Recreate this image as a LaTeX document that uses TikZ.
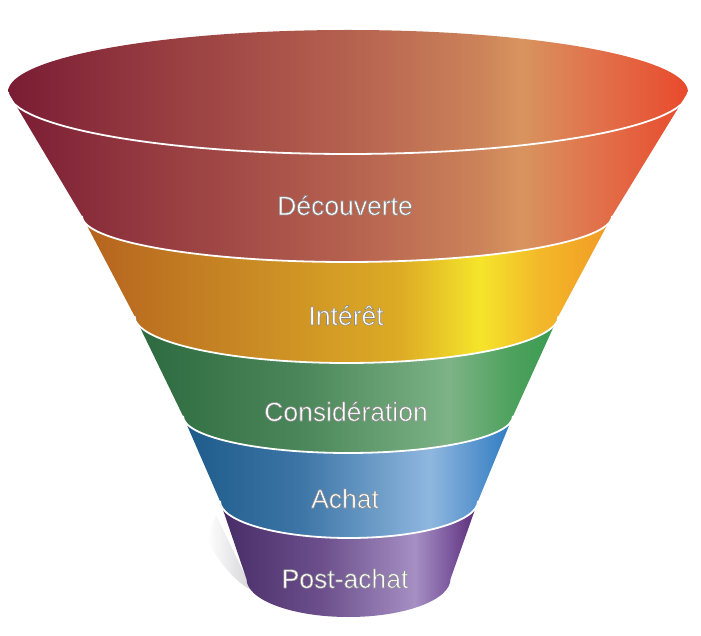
\documentclass[tikz,border=0pt]{standalone}
\usepackage{fontspec}
\setmainfont{Liberation Sans}
% red band colours
\definecolor{rA}{HTML}{7A1C34}\definecolor{rB}{HTML}{953A40}\definecolor{rC}{HTML}{B5614F}
\definecolor{rD}{HTML}{CC8359}\definecolor{rE}{HTML}{D8945F}\definecolor{rF}{HTML}{E2704A}\definecolor{rG}{HTML}{E84A2C}
% orange band
\definecolor{oA}{HTML}{B5621E}\definecolor{oB}{HTML}{C98A24}\definecolor{oC}{HTML}{DDAB25}
\definecolor{oD}{HTML}{F5E52A}\definecolor{oE}{HTML}{F3B82A}\definecolor{oF}{HTML}{F29A24}
% green band
\definecolor{gA}{HTML}{2C693E}\definecolor{gB}{HTML}{4A8659}\definecolor{gC}{HTML}{7DB386}
\definecolor{gD}{HTML}{4EA25E}\definecolor{gE}{HTML}{3A9A50}
% blue band
\definecolor{bA}{HTML}{1D5A8A}\definecolor{bB}{HTML}{3C75A6}\definecolor{bC}{HTML}{8FB7DF}
\definecolor{bD}{HTML}{5A95CE}\definecolor{bE}{HTML}{2C7BC2}
% purple band
\definecolor{pA}{HTML}{472C66}\definecolor{pB}{HTML}{6B4E8B}\definecolor{pC}{HTML}{A58FC3}
\definecolor{pD}{HTML}{7C589E}\definecolor{pE}{HTML}{5A2A76}
\definecolor{shadowgray}{HTML}{D6D6DA}

\pgfdeclarehorizontalshading{redsh}{100bp}{color(0bp)=(rA); color(25bp)=(rA); color(35.4bp)=(rB); color(50bp)=(rC); color(59.7bp)=(rD); color(62.7bp)=(rE); color(68.5bp)=(rF); color(75bp)=(rG); color(100bp)=(rG)}
\pgfdeclarehorizontalshading{orangesh}{100bp}{color(0bp)=(oA); color(25bp)=(oA); color(40.8bp)=(oB); color(55bp)=(oC); color(62.5bp)=(oD); color(68.2bp)=(oE); color(75bp)=(oF); color(100bp)=(oF)}
\pgfdeclarehorizontalshading{greensh}{100bp}{color(0bp)=(gA); color(25bp)=(gA); color(44.5bp)=(gB); color(62.2bp)=(gC); color(69.3bp)=(gD); color(75bp)=(gE); color(100bp)=(gE)}
\pgfdeclarehorizontalshading{bluesh}{100bp}{color(0bp)=(bA); color(25bp)=(bA); color(42.7bp)=(bB); color(62.4bp)=(bC); color(69.2bp)=(bD); color(75bp)=(bE); color(100bp)=(bE)}
\pgfdeclarehorizontalshading{purplesh}{100bp}{color(0bp)=(pA); color(25bp)=(pA); color(44.4bp)=(pB); color(62.8bp)=(pC); color(69.5bp)=(pD); color(75bp)=(pE); color(100bp)=(pE)}

% white text with a thin grey outline (fill then stroke)
\newcommand{\outlinedtext}[1]{\special{pdf:code 2 Tr 0.55 0.55 0.55 RG 0.6 w}#1\special{pdf:code 0 Tr}}

\tikzset{
  lbl/.style={text=white, font=\fontsize{26.5}{30}\selectfont, inner sep=0pt, anchor=base},
  rim/.style={draw=white, line width=1.8pt},
}

\begin{document}
\begin{tikzpicture}[x=1pt,y=1pt]
\useasboundingbox[fill=white] (0,0) rectangle (701,635);

% faint shadow beside the bottom band
\shade[left color=white, right color=shadowgray]
  (216,120) -- (246,58) -- (250,46) .. controls (236,52) and (214,78) .. (207,98) -- cycle;

% Découverte band (with funnel mouth)
\shade[shading=redsh]
  (8,543) arc[start angle=180, end angle=0, x radius=340, y radius=62]
  -- (612,419) arc[start angle=0, end angle=-180, x radius=265, y radius=46] -- cycle;
% Intérêt band
\shade[shading=orangesh]
  (82,419) arc[start angle=180, end angle=360, x radius=265, y radius=46]
  -- (558.5,319) arc[start angle=0, end angle=-180, x radius=212, y radius=47] -- cycle;
% Considération band
\shade[shading=greensh]
  (134.5,319) arc[start angle=180, end angle=360, x radius=212, y radius=47]
  -- (513,219) arc[start angle=0, end angle=-180, x radius=165, y radius=37] -- cycle;
% Achat band
\shade[shading=bluesh]
  (183,219) arc[start angle=180, end angle=360, x radius=165, y radius=37]
  -- (478,134) arc[start angle=0, end angle=-180, x radius=129, y radius=37] -- cycle;
% Post-achat band
\shade[shading=purplesh]
  (220,134) arc[start angle=180, end angle=360, x radius=129, y radius=37]
  -- (450.5,56) arc[start angle=0, end angle=-180, x radius=102, y radius=38] -- cycle;

% white rims
\draw[rim] (8,543) arc[start angle=180, end angle=360, x radius=340, y radius=62];
\draw[rim] (82,419) arc[start angle=180, end angle=360, x radius=265, y radius=46];
\draw[rim] (134.5,319) arc[start angle=180, end angle=360, x radius=212, y radius=47];
\draw[rim] (183,219) arc[start angle=180, end angle=360, x radius=165, y radius=37];
\draw[rim] (220,134) arc[start angle=180, end angle=360, x radius=129, y radius=37];

% labels
\node[lbl] (t1) at (345,420) {\outlinedtext{Découverte}};
\node[lbl] (t2) at (346,310) {\outlinedtext{Intérêt}};
\node[lbl] (t3) at (346,214) {\outlinedtext{Considération}};
\node[lbl] (t4) at (345,127) {\outlinedtext{Achat}};
\node[lbl] (t5) at (345,47) {\outlinedtext{Post-achat}};
\end{tikzpicture}
\end{document}
